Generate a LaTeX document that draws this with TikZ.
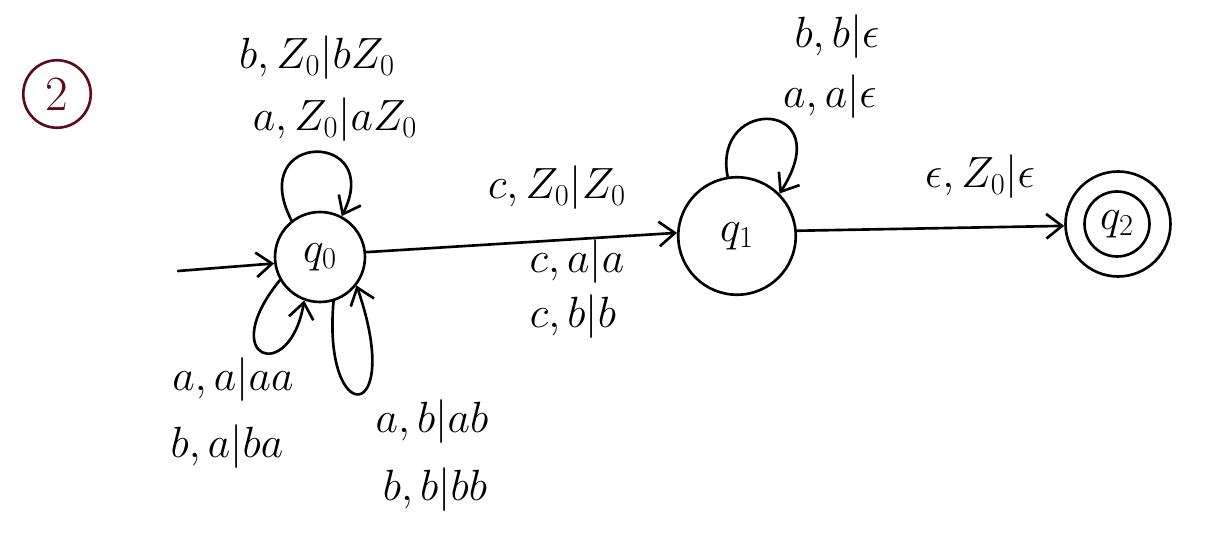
\documentclass[tikz,border=0pt]{standalone}
\usetikzlibrary{arrows.meta}
\begin{document}
\begin{tikzpicture}[x=0.02cm,y=-0.02cm,
  pen/.style={line width=1.5pt,line cap=round,line join=round},
  arr/.style={pen,-{Straight Barb[length=9pt,width=14pt,line width=1.5pt]}},
  state/.style={circle,draw,pen,inner sep=0pt,font=\fontsize{26}{30}\selectfont},
  lbl/.style={inner sep=1pt,font=\fontsize{26}{30}\selectfont},
  tag/.style={circle,draw=tagred,line width=1.5pt,text=tagred,minimum size=1.35cm,inner sep=0pt,font=\fontsize{28}{30}\selectfont}]
\definecolor{tagred}{RGB}{95,10,25}
\useasboundingbox (0,0) rectangle (1215,540);
% tag
\node[tag] (tag) at (57,94) {2};
% states
\node[state,minimum size=1.8cm] (q0) at (320,257) {$q_0$};
\node[state,minimum size=2.35cm] (q1) at (737,236) {$q_1$};
\node[state,minimum size=2.1cm] (q2) at (1118,224) {};
\node[state,minimum size=1.3cm] (q2i) at (1117,224) {$q_2$};
% start
\coordinate (start) at (178,271);
\draw[arr] (start) -- (q0.188);
% q0 loops
\draw[arr] (q0.128) .. controls (245,130) and (385,130) .. (q0.62);
\draw[arr] (q0.210) .. controls (215,360) and (290,385) .. (q0.250);
\draw[arr] (q0.287) .. controls (322,430) and (405,425) .. (q0.322);
% q1 loop
\draw[arr] (q1.99) .. controls (712,95) and (840,100) .. (q1.45);
% transitions
\draw[arr] (q0.6) -- (q1.177);
\draw[arr] (q1.5) -- (q2.182);
% labels
\node[lbl] (l1) at (317,58) {$b,Z_0|bZ_0$};
\node[lbl] (l2) at (335,120) {$a,Z_0|aZ_0$};
\node[lbl] (l3) at (233,380) {$a,a|aa$};
\node[lbl] (l4) at (227,447) {$b,a|ba$};
\node[lbl] (l5) at (432,422) {$a,b|ab$};
\node[lbl] (l6) at (435,490) {$b,b|bb$};
\node[lbl] (l7) at (557,188) {$c,Z_0|Z_0$};
\node[lbl] (l8) at (577,262) {$c,a|a$};
\node[lbl] (l9) at (573,317) {$c,b|b$};
\node[lbl] (l10) at (837,37) {$b,b|\epsilon$};
\node[lbl] (l11) at (830,97) {$a,a|\epsilon$};
\node[lbl] (l12) at (980,177) {$\epsilon,Z_0|\epsilon$};
\end{tikzpicture}
\end{document}
